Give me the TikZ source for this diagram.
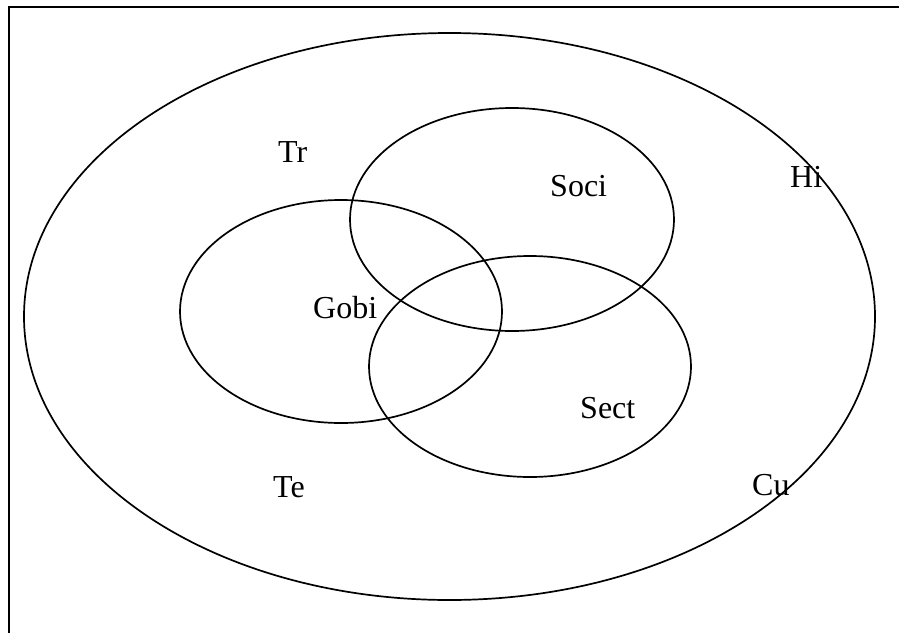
\documentclass[tikz,border=0pt]{standalone}
\usepackage{fontspec}
\setmainfont{Liberation Serif}
\begin{document}
\begin{tikzpicture}[x=1pt,y=-1pt,
  ring/.style={line width=1.7pt},
  lbl/.style={anchor=base west,inner sep=0pt,font=\fontsize{32}{38}\selectfont}]
\useasboundingbox (0,0) rectangle (899,632);
\begin{scope}
\clip (0,0) rectangle (899,632);
\draw[line width=2.4pt] (9,7) rectangle (920,660);
\end{scope}
% outer ellipse
\draw[ring] (449.5,316.5) ellipse [x radius=425.5, y radius=283.5];
% inner circles
\draw[ring] (341,311.5) ellipse [x radius=161, y radius=111.5];
\draw[ring] (512,219.5) ellipse [x radius=162, y radius=111.5];
\draw[ring] (530,366.5) ellipse [x radius=161, y radius=110.5];
% labels
\node[lbl] (tr) at (278,162) {Tr};
\node[lbl] (soci) at (550,196) {Soci};
\node[lbl] (hi) at (790,187) {Hi};
\node[lbl] (gobi) at (313,318) {Gobi};
\node[lbl] (sect) at (580,418) {Sect};
\node[lbl] (te) at (273,497) {Te};
\node[lbl] (cu) at (752,495) {Cu};
\end{tikzpicture}
\end{document}
